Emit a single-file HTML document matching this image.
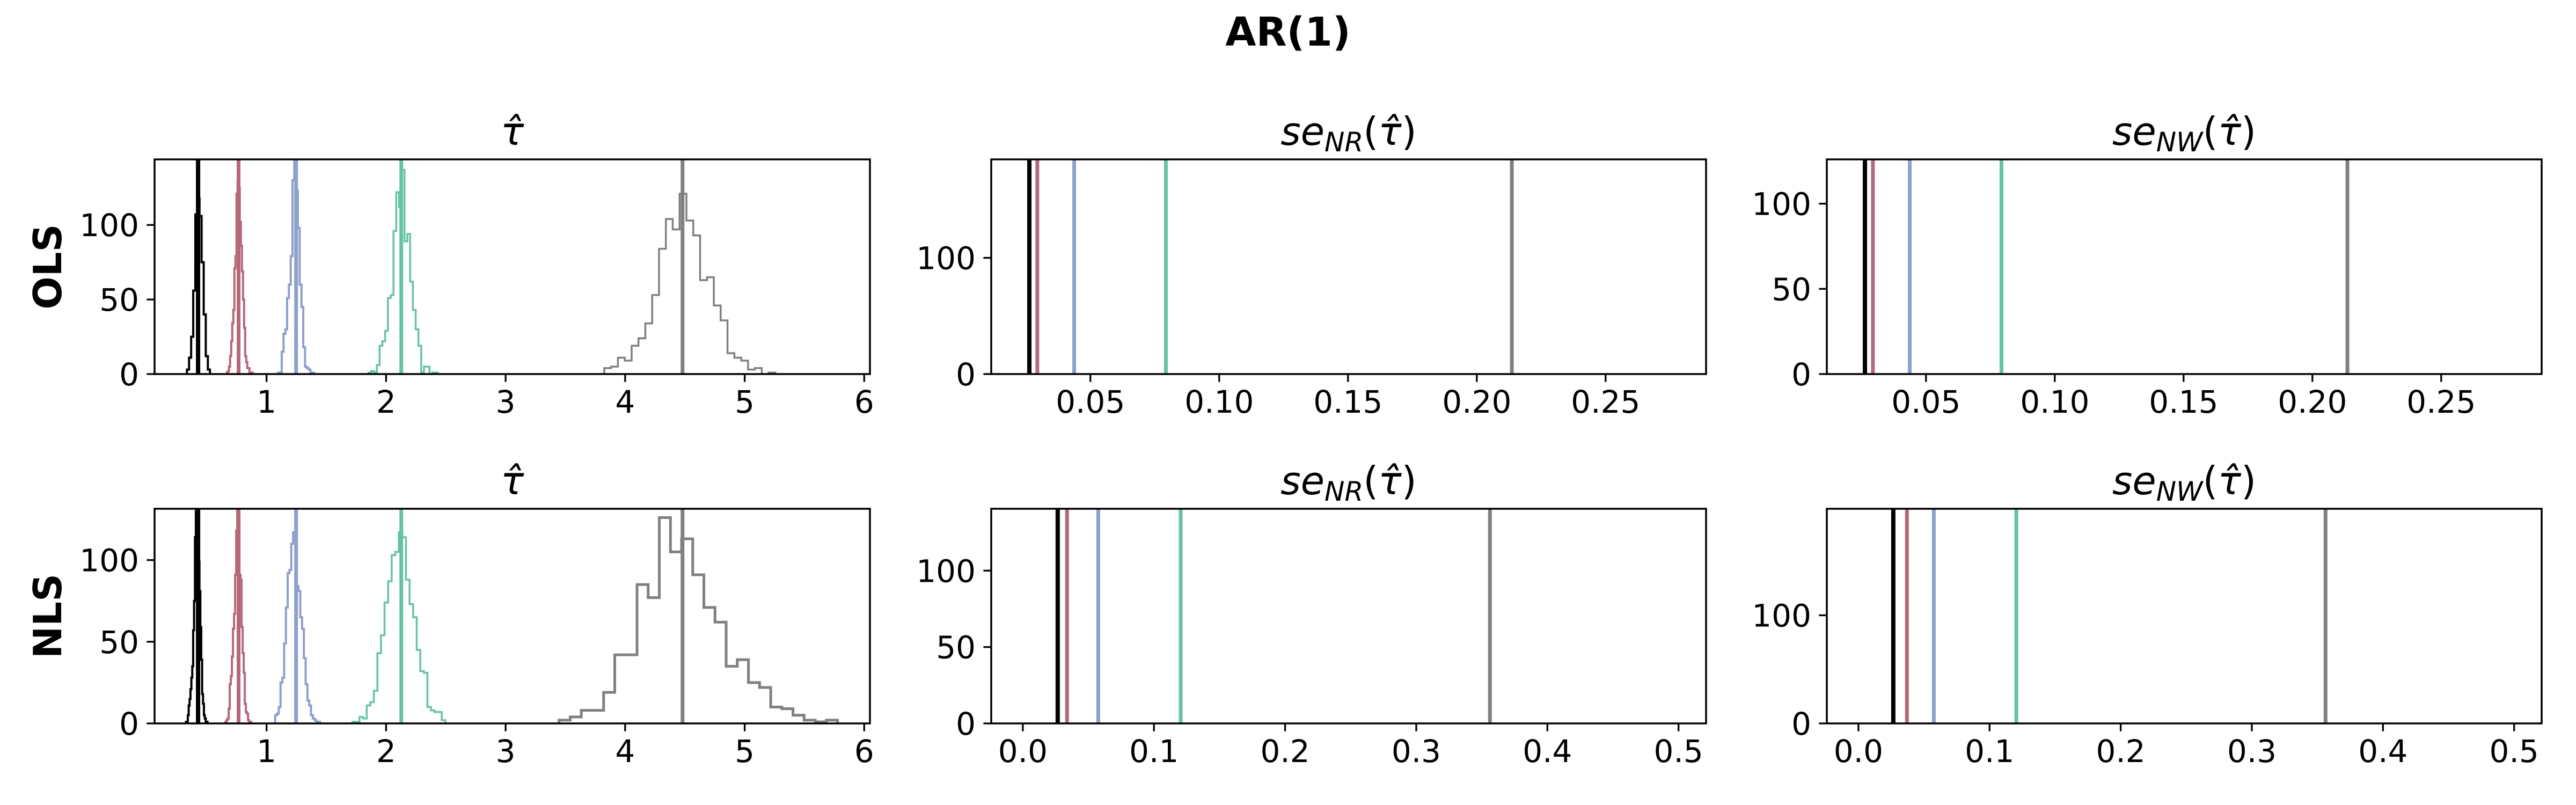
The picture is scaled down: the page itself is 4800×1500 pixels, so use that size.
<!DOCTYPE html>
<html>
<head>
<meta charset="utf-8">
<style>
html,body{margin:0;padding:0;background:#fff;}
svg{display:block;}
text{font-family:"DejaVu Sans","Liberation Sans",sans-serif;fill:#000;}
</style>
</head>
<body>
<svg id="fig" width="4800" height="1500" viewBox="0 0 4800 1500" xmlns="http://www.w3.org/2000/svg">
<rect x="0" y="0" width="4800" height="1500" fill="#fff"/>
<text x="2400" y="85" text-anchor="middle" font-size="74" font-weight="bold">AR(1)</text>
<text transform="translate(114,497) rotate(-90)" text-anchor="middle" font-size="72" font-weight="bold">OLS</text>
<text transform="translate(114,1148) rotate(-90)" text-anchor="middle" font-size="72" font-weight="bold">NLS</text>
<g id="panels"></g>
</svg>
<script>
// ---- data ----
const seriesColors = ['#000000', '#b5687a', '#8da0cb', '#66c2a5', '#808080'];
const seriesNames = ['n1', 'n2', 'n3', 'n4', 'n5'];

const olsTauBinStart = [0.334, 0.668, 1.097, 1.853, 3.825];
const olsTauBinWidth = [0.0175, 0.009, 0.015, 0.0232, 0.0573];
const olsTauCountsBlack = [3, 11, 25, 56, 107, 118, 106, 75, 40, 12, 3];
const olsTauCountsRed = [1, 2, 5, 12, 22, 34, 43, 71, 79, 121, 130, 125, 102, 86, 69, 50, 31, 12, 8, 4, 4, 1, 1, 1];
const olsTauCountsBlue = [1, 1, 15, 27, 30, 51, 60, 79, 130, 143, 123, 98, 60, 45, 18, 5, 4, 3, 1, 1];
const olsTauCountsGreen = [1, 2, 1, 6, 19, 22, 29, 51, 53, 96, 122, 112, 137, 89, 94, 62, 43, 30, 19, 1, 5, 5, 0, 1, 1];
const olsTauCountsGray = [4, 5, 11, 9, 19, 24, 34, 53, 84, 104, 97, 121, 103, 93, 63, 65, 46, 36, 14, 11, 9, 3, 4, 0, 1];

const nlsTauBinStart = [0.326, 0.656, 1.072, 1.718, 3.447];
const nlsTauBinWidth = [0.0075, 0.009, 0.015, 0.0299, 0.0932];
const nlsTauCountsBlack = [1, 1, 5, 11, 15, 21, 28, 35, 57, 75, 114, 130, 115, 106, 99, 81, 59, 39, 18, 12, 5, 3, 1, 1];
const nlsTauCountsRed = [1, 2, 3, 9, 24, 29, 41, 58, 67, 91, 118, 131, 125, 91, 88, 59, 43, 31, 12, 7, 6, 2, 1, 1];
const nlsTauCountsBlue = [5, 6, 10, 25, 28, 49, 71, 92, 94, 110, 117, 117, 84, 81, 65, 58, 40, 24, 14, 11, 5, 3, 2, 1, 1];
const nlsTauCountsGreen = [1, 1, 4, 3, 11, 13, 20, 43, 54, 74, 87, 103, 105, 117, 114, 88, 73, 65, 45, 32, 31, 10, 8, 7, 7, 2];
const nlsTauCountsGray = [2, 4, 8, 8, 19, 42, 42, 85, 77, 126, 105, 113, 91, 71, 62, 35, 39, 25, 22, 10, 9, 5, 2, 1, 2];

const olsTauTrue = [0.427, 0.766, 1.247, 2.127, 4.48];
const nlsTauTrue = [0.427, 0.766, 1.247, 2.127, 4.48];
const olsSeNR = [0.0263, 0.0294, 0.0437, 0.0793, 0.2136];
const olsSeNW = [0.0263, 0.0294, 0.0437, 0.0793, 0.2136];
const nlsSeNR = [0.0266, 0.0337, 0.0575, 0.1204, 0.3562];
const nlsSeNW = [0.0266, 0.037, 0.0575, 0.1204, 0.3562];

const tauXTicks = [1, 2, 3, 4, 5, 6];
const tauXTickLabels = ['1', '2', '3', '4', '5', '6'];
const seOlsXTicks = [0.05, 0.10, 0.15, 0.20, 0.25];
const seOlsXTickLabels = ['0.05', '0.10', '0.15', '0.20', '0.25'];
const seNlsXTicks = [0, 0.1, 0.2, 0.3, 0.4, 0.5];
const seNlsXTickLabels = ['0.0', '0.1', '0.2', '0.3', '0.4', '0.5'];
const yTicks3 = [0, 50, 100];
const yTickLabels3 = ['0', '50', '100'];
const yTicks2 = [0, 100];
const yTickLabels2 = ['0', '100'];

// ---- layout ----
const NS = 'http://www.w3.org/2000/svg';
const root = document.getElementById('panels');
function mk(tag, attrs, parent) {
  const e = document.createElementNS(NS, tag);
  for (const k in attrs) e.setAttribute(k, attrs[k]);
  (parent || root).appendChild(e);
  return e;
}
const cols = [[288, 1621], [1847, 3179], [3404, 4736]];
const rows = [[297, 697], [948, 1348]];

const panels = [
  {name:'ols-tau', c:0, r:0, xmin:0.063, xmax:6.048, ymax:144, xt:tauXTicks, xl:tauXTickLabels, yt:yTicks3, yl:yTickLabels3, kind:'tau', hs:olsTauBinStart, hw:olsTauBinWidth,
   hc:[olsTauCountsBlack, olsTauCountsRed, olsTauCountsBlue, olsTauCountsGreen, olsTauCountsGray], v:olsTauTrue, hlw:[4,4,4,3.5,3.5]},
  {name:'ols-se-nr', c:1, r:0, xmin:0.0115, xmax:0.289, ymax:184.7, xt:seOlsXTicks, xl:seOlsXTickLabels, yt:yTicks2, yl:yTickLabels2, kind:'nr', v:olsSeNR},
  {name:'ols-se-nw', c:2, r:0, xmin:0.0115, xmax:0.289, ymax:126, xt:seOlsXTicks, xl:seOlsXTickLabels, yt:yTicks3, yl:yTickLabels3, kind:'nw', v:olsSeNW},
  {name:'nls-tau', c:0, r:1, xmin:0.063, xmax:6.048, ymax:131.4, xt:tauXTicks, xl:tauXTickLabels, yt:yTicks3, yl:yTickLabels3, kind:'tau', hs:nlsTauBinStart, hw:nlsTauBinWidth,
   hc:[nlsTauCountsBlack, nlsTauCountsRed, nlsTauCountsBlue, nlsTauCountsGreen, nlsTauCountsGray], v:nlsTauTrue, hlw:[4,4,4,3.5,5]},
  {name:'nls-se-nr', c:1, r:1, xmin:-0.0241, xmax:0.521, ymax:140.5, xt:seNlsXTicks, xl:seNlsXTickLabels, yt:yTicks3, yl:yTickLabels3, kind:'nr', v:nlsSeNR},
  {name:'nls-se-nw', c:2, r:1, xmin:-0.0241, xmax:0.521, ymax:198.5, xt:seNlsXTicks, xl:seNlsXTickLabels, yt:yTicks2, yl:yTickLabels2, kind:'nw', v:nlsSeNW}
];

panels.forEach((p, pi) => {
  const [x0, x1] = cols[p.c];
  const [y0, y1] = rows[p.r];
  const sx = v => x0 + (v - p.xmin) / (p.xmax - p.xmin) * (x1 - x0);
  const sy = v => y1 - v / p.ymax * (y1 - y0);
  const g = mk('g', {});
  
  
  const cid = 'clip' + pi;
  const cp = mk('clipPath', {id: cid}, g);
  mk('rect', {x: x0, y: y0, width: x1 - x0, height: y1 - y0}, cp);
  const plot = mk('g', {'clip-path': 'url(#' + cid + ')'}, g);

  if (p.hc) {
    p.hc.forEach((counts, si) => {
      let d = 'M' + sx(p.hs[si]) + ',' + sy(0);
      counts.forEach((c, i) => {
        d += ' V' + sy(c) + ' H' + sx(p.hs[si] + (i + 1) * p.hw[si]);
      });
      d += ' V' + sy(0);
      const path = mk('path', {d: d, fill: 'none', stroke: seriesColors[si], 'stroke-width': p.hlw[si], 'stroke-linejoin': 'miter'}, plot);
      
      
    });
  }
  p.v.forEach((val, si) => {
    const ln = mk('line', {x1: sx(val), x2: sx(val), y1: y0, y2: y1, stroke: seriesColors[si], 'stroke-width': si === 0 ? 8 : 7}, plot);
    
    
  });

  p.xt.forEach((t, i) => {
    const x = sx(t);
    const tk = mk('line', {x1: x, x2: x, y1: y1, y2: y1 + 14.6, stroke: '#000', 'stroke-width': 3.3}, g);
    
    
    const tl = mk('text', {x: x, y: y1 + 72, 'text-anchor': 'middle', 'font-size': 58}, g);
    tl.textContent = p.xl[i];
    
    
  });
  p.yt.forEach((t, i) => {
    const y = sy(t);
    const tk = mk('line', {x1: x0 - 14.6, x2: x0, y1: y, y2: y, stroke: '#000', 'stroke-width': 3.3}, g);
    
    
    const tl = mk('text', {x: x0 - 29, y: y + 21, 'text-anchor': 'end', 'font-size': 58}, g);
    tl.textContent = p.yl[i];
    
    
  });
  const fr = mk('rect', {x: x0, y: y0, width: x1 - x0, height: y1 - y0, fill: 'none', stroke: '#000', 'stroke-width': 3.5}, g);
  
  

  const cx = (x0 + x1) / 2;
  const ty = y0 - 27;
  const title = mk('text', {x: cx, y: ty, 'text-anchor': 'middle', 'font-size': 72}, g);
  
  
  if (p.kind === 'tau') {
    const t = mk('tspan', {'font-style': 'italic'}, title);
    t.textContent = 'τ\u0302';
  } else {
    const a = mk('tspan', {'font-style': 'italic'}, title);
    a.textContent = 'se';
    const b = mk('tspan', {'font-style': 'italic', 'font-size': 50, dy: 12}, title);
    b.textContent = p.kind === 'nr' ? 'NR' : 'NW';
    const c = mk('tspan', {dy: -12}, title);
    c.textContent = '(';
    const d = mk('tspan', {'font-style': 'italic'}, title);
    d.textContent = 'τ\u0302';
    const e = mk('tspan', {}, title);
    e.textContent = ')';
  }
});
</script>
</body>
</html>
